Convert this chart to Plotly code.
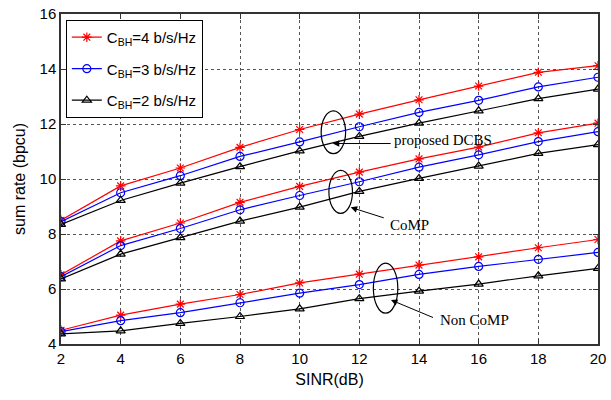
import plotly.graph_objects as go

sinr = [2, 4, 6, 8, 10, 12, 14, 16, 18, 20]

prop4 = [8.50, 9.75, 10.40, 11.15, 11.80, 12.36, 12.88, 13.38, 13.88, 14.12]
prop3 = [8.45, 9.50, 10.12, 10.82, 11.35, 11.90, 12.42, 12.86, 13.35, 13.70]
prop2 = [8.35, 9.22, 9.85, 10.45, 11.02, 11.55, 12.03, 12.48, 12.92, 13.27]

comp4 = [6.52, 7.75, 8.40, 9.15, 9.73, 10.25, 10.73, 11.16, 11.68, 12.03]
comp3 = [6.45, 7.58, 8.20, 8.88, 9.40, 9.90, 10.43, 10.88, 11.36, 11.72]
comp2 = [6.37, 7.27, 7.87, 8.47, 8.98, 9.55, 10.02, 10.47, 10.93, 11.25]

non4 = [4.50, 5.05, 5.45, 5.80, 6.22, 6.54, 6.87, 7.17, 7.50, 7.80]
non3 = [4.45, 4.85, 5.14, 5.50, 5.85, 6.16, 6.53, 6.82, 7.08, 7.33]
non2 = [4.37, 4.48, 4.75, 5.00, 5.28, 5.65, 5.92, 6.18, 6.48, 6.75]

legend_names = ["C<sub>BH</sub>=4 b/s/Hz", "C<sub>BH</sub>=3 b/s/Hz", "C<sub>BH</sub>=2 b/s/Hz"]
colors = ["#ff0000", "#0000ff", "#000000"]
symbols = ["asterisk-open", "circle-open", "triangle-up-open"]

groups = [
    [prop4, prop3, prop2],
    [comp4, comp3, comp2],
    [non4, non3, non2],
]

fig = go.Figure()
for gi, grp in enumerate(groups):
    for k, ys in enumerate(grp):
        fig.add_trace(go.Scatter(
            x=sinr, y=ys, mode="lines+markers",
            name=legend_names[k], legendgroup=str(k), showlegend=(gi == 0),
            line=dict(color=colors[k], width=1.2),
            marker=dict(symbol=symbols[k], size=8, color=colors[k],
                        line=dict(color=colors[k], width=1.2)),
        ))

# ellipses
ellipses = [
    (10.72, 10.92, 11.54, 12.48),
    (10.98, 8.75, 11.77, 10.31),
    (12.47, 5.12, 13.29, 6.94),
]
for x0, y0, x1, y1 in ellipses:
    fig.add_shape(type="circle", xref="x", yref="y", x0=x0, y0=y0, x1=x1, y1=y1,
                  line=dict(color="black", width=1.2))

# arrows (tip, tail)
arrows = [
    ((11.11, 11.29), (13.1, 11.29)),
    ((11.71, 8.97), (12.87, 8.57)),
    ((13.06, 5.60), (14.52, 4.94)),
]
for (tx, ty), (sx, sy) in arrows:
    fig.add_annotation(x=tx, y=ty, ax=sx, ay=sy, xref="x", yref="y", axref="x", ayref="y",
                       text="", showarrow=True, arrowhead=2, arrowsize=1.3, arrowwidth=1,
                       arrowcolor="black", standoff=0, startstandoff=0)

labels = [
    (13.1, 11.43, "proposed DCBS"),
    (12.96, 8.31, "CoMP"),
    (14.62, 4.87, "Non CoMP"),
]
for x, y, t in labels:
    fig.add_annotation(x=x, y=y, xref="x", yref="y", text=t, showarrow=False,
                       xanchor="left", yanchor="middle",
                       font=dict(family="Liberation Serif", size=15, color="black"))

axis_common = dict(
    showline=True, linecolor="#333", linewidth=1.5, mirror="ticks",
    ticks="inside", ticklen=5, tickcolor="#333",
    showgrid=True, gridcolor="#555", griddash="dot", gridwidth=1,
    zeroline=False, tickfont=dict(family="Liberation Sans", size=15, color="black"),
    ticklabeloverflow="allow",
)

fig.update_xaxes(range=[2, 20], tickvals=sinr, title=dict(text="SINR(dB)", standoff=8,
                 font=dict(family="Liberation Sans", size=16, color="black")), **axis_common)
fig.update_yaxes(range=[4, 16], tickvals=[4, 6, 8, 10, 12, 14, 16],
                 title=dict(text="sum rate (bpcu)", standoff=10,
                            font=dict(family="Liberation Sans", size=16, color="black")),
                 **axis_common)

fig.update_layout(
    width=611, height=400,
    margin=dict(l=61, r=5, t=13, b=56),
    paper_bgcolor="white", plot_bgcolor="white",
    showlegend=True,
    legend=dict(x=0.009, y=0.982, xanchor="left", yanchor="top",
                bgcolor="white", bordercolor="black", borderwidth=1,
                font=dict(family="Liberation Sans", size=15, color="black"),
                tracegroupgap=9, traceorder="grouped"),
)

fig.write_html("out.html")
